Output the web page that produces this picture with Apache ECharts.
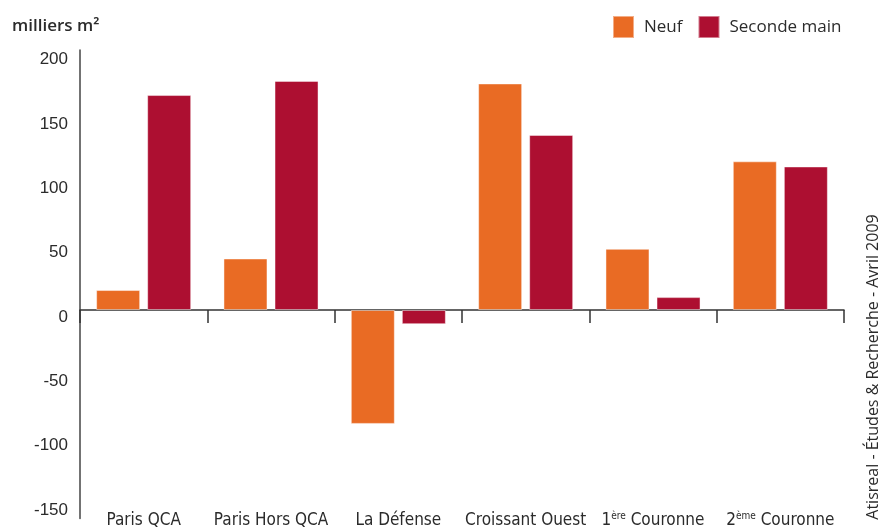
<!DOCTYPE html>
<html>
<head>
<meta charset="utf-8">
<script src="https://cdn.jsdelivr.net/npm/echarts@6/dist/echarts.min.js"></script>
<style>
  html, body { margin: 0; padding: 0; background: #ffffff; }
  #chart { width: 880px; height: 529px; }
</style>
</head>
<body>
<div id="chart"></div>
<script>
// Variation du stock (milliers m²) par secteur
const categories = ['Paris QCA', 'Paris Hors QCA', 'La Défense', 'Croissant Ouest', '1ère Couronne', '2ème Couronne'];
const neuf = [15.5, 40, -88.5, 176, 47.5, 115.5];
const secondeMain = [167, 178, -11, 136, 10, 111.5];
const yTicks = [-150, -100, -50, 0, 50, 100, 150, 200];
const seriesNames = ['Neuf', 'Seconde main'];

const ORANGE = '#E96B24';
const CRIMSON = '#AD0F31';
const TEXT = '#2b2b2b';
const CAT_FONT = "'DejaVu Sans Condensed', Roboto, sans-serif";

// Superscript ordinal suffixes ("1ère", "2ème")
function formatCategory(name) {
  return name.replace(/^(\d)(ère|ème)/, '$1{sup|$2}');
}

const chart = echarts.init(document.getElementById('chart'), null, { renderer: 'canvas' });

chart.setOption({
  animation: false,
  backgroundColor: '#ffffff',
  title: {
    text: 'milliers m²',
    left: 12,
    top: 18,
    padding: 0,
    textStyle: { fontFamily: 'Open Sans', fontSize: 17, fontWeight: 600, color: TEXT }
  },
  legend: {
    left: 612,
    top: 15,
    padding: 0,
    itemWidth: 21,
    itemHeight: 22,
    itemGap: 15,
    icon: 'rect',
    data: seriesNames,
    textStyle: { fontFamily: 'Open Sans', fontSize: 17, color: TEXT, padding: [0, 0, 0, 5] }
  },
  grid: { left: 80, right: 36, top: 50, bottom: 9, containLabel: false },
  xAxis: [
    {
      type: 'category',
      data: categories,
      position: 'bottom',
      axisLine: { show: true, onZero: true, lineStyle: { color: '#333', width: 1.5 } },
      axisTick: { show: true, length: 13, lineStyle: { color: '#333', width: 1.5 } },
      axisLabel: { show: false },
      splitLine: { show: false }
    },
    {
      type: 'category',
      data: categories,
      position: 'bottom',
      axisLine: { show: false, onZero: false },
      axisTick: { show: false },
      splitLine: { show: false },
      axisLabel: {
        show: true,
        interval: 0,
        margin: 2,
        verticalAlign: 'middle',
        fontFamily: CAT_FONT,
        fontSize: 17,
        color: TEXT,
        formatter: formatCategory,
        rich: {
          sup: { fontFamily: CAT_FONT, fontSize: 10, color: TEXT, verticalAlign: 'top', padding: [0, 0, 8, 0] }
        }
      }
    }
  ],
  yAxis: {
    type: 'value',
    min: -162,
    max: 202,
    axisLine: { show: true, lineStyle: { color: '#444', width: 1.5 } },
    axisTick: { show: false },
    splitLine: { show: false },
    axisLabel: {
      customValues: yTicks,
      margin: 12,
      fontFamily: 'Liberation Sans',
      fontSize: 17,
      color: TEXT,
      verticalAlign: 'top',
      lineHeight: 14
    }
  },
  series: [
    {
      name: seriesNames[0],
      type: 'bar',
      xAxisIndex: 0,
      data: neuf,
      barWidth: 44,
      barGap: '16%',
      itemStyle: { color: ORANGE, borderColor: 'rgba(255,255,255,0.45)', borderWidth: 1 }
    },
    {
      name: seriesNames[1],
      type: 'bar',
      xAxisIndex: 0,
      data: secondeMain,
      barWidth: 44,
      barGap: '16%',
      itemStyle: { color: CRIMSON, borderColor: 'rgba(255,255,255,0.45)', borderWidth: 1 }
    }
  ],
  graphic: [
    {
      type: 'text',
      x: 873,
      y: 367,
      rotation: Math.PI / 2,
      style: {
        text: 'Atisreal - Études & Recherche - Avril 2009',
        fontFamily: 'Open Sans',
        fontSize: 16,
        fill: TEXT,
        align: 'center',
        verticalAlign: 'middle'
      }
    }
  ]
});
</script>
</body>
</html>
